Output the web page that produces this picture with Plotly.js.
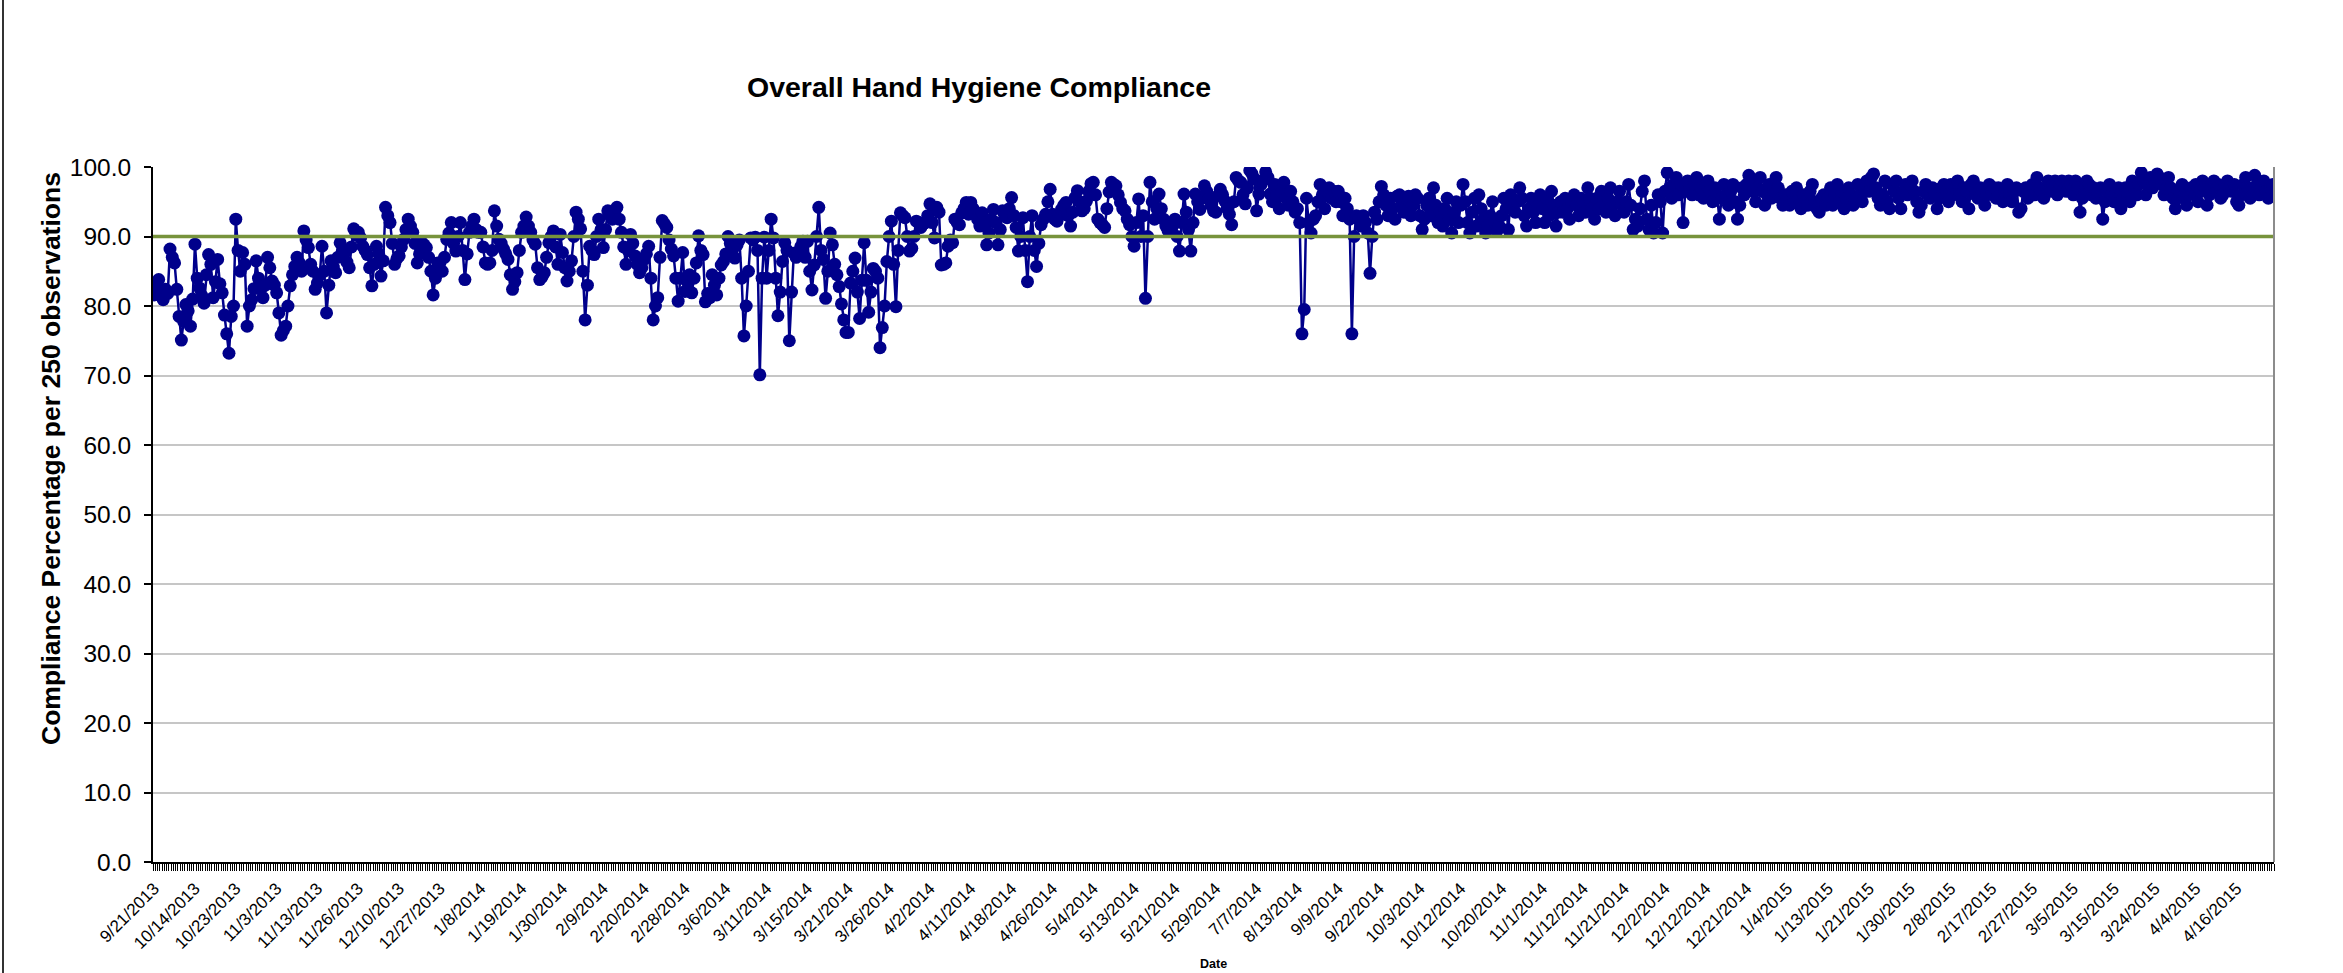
<!DOCTYPE html>
<html>
<head>
<meta charset="utf-8">
<script src="https://cdn.plot.ly/plotly-3.0.1.min.js"></script>
<style>html,body{margin:0;padding:0;background:#fff;}#chart{width:2343px;height:973px;}</style>
</head>
<body>
<div id="chart"></div>
<script>
// Compliance percentage per 250 observations, one value per observation, in date order
const compliance = [
 81.6, 82.8, 83.8, 81.5, 80.9, 82.4, 81.8, 88.2, 87.0, 86.2, 82.4, 78.5, 75.1, 77.8, 80.2, 79.3, 77.1, 81.0,
 88.9, 84.0, 82.6, 81.5, 80.4, 84.5, 87.4, 86.0, 81.2, 83.5, 86.7, 83.2, 81.9, 78.7, 76.0, 73.2, 78.5, 80.0,
 92.5, 88.0, 85.0, 87.7, 86.0, 77.1, 80.0, 80.9, 82.5, 86.5, 84.0, 82.4, 81.2, 83.0, 87.0, 85.5, 83.6, 83.0,
 81.9, 79.0, 75.8, 76.5, 77.1, 80.0, 82.9, 84.5, 85.7, 87.0, 86.2, 85.0, 90.8, 89.5, 88.4, 86.0, 85.0, 82.4,
 83.3, 84.5, 88.6, 85.0, 79.0, 83.0, 86.5, 85.6, 84.8, 87.0, 89.1, 88.0, 87.7, 86.3, 85.5, 88.5, 91.1, 90.2,
 90.6, 89.8, 88.6, 88.0, 87.4, 85.5, 82.9, 86.0, 88.6, 87.5, 84.3, 86.5, 94.2, 93.0, 92.0, 89.0, 86.0, 86.8,
 87.2, 88.5, 89.6, 91.0, 92.5, 91.5, 90.6, 89.0, 86.2, 87.5, 89.1, 88.8, 88.4, 87.0, 85.0, 81.6, 84.0, 86.2,
 86.2, 85.0, 87.0, 89.6, 90.5, 92.0, 89.0, 87.9, 90.0, 92.0, 88.0, 83.8, 87.5, 90.6, 91.5, 92.5, 91.0, 90.6,
 90.6, 88.5, 86.2, 86.0, 86.2, 88.0, 93.7, 91.5, 89.6, 89.0, 88.2, 87.5, 86.7, 84.5, 82.4, 83.5, 84.8, 88.0,
 90.6, 91.5, 92.8, 91.5, 90.6, 89.5, 88.9, 85.5, 83.8, 84.2, 84.8, 87.0, 89.1, 90.0, 90.8, 88.5, 86.0, 90.3,
 87.7, 85.5, 83.6, 85.0, 86.5, 90.0, 93.5, 92.5, 91.1, 85.0, 78.0, 83.0, 88.6, 88.0, 87.4, 90.0, 92.5, 91.0,
 88.4, 91.0, 93.7, 93.0, 92.5, 93.5, 94.2, 92.5, 90.6, 88.5, 86.0, 88.0, 90.3, 89.0, 87.2, 86.0, 84.8, 85.5,
 86.7, 87.5, 88.6, 84.0, 78.0, 80.0, 81.2, 87.0, 92.3, 91.8, 91.3, 89.5, 88.2, 87.2, 84.0, 80.7, 84.0, 87.7,
 82.1, 83.5, 84.5, 81.9, 84.0, 86.2, 90.1, 88.0, 87.4, 80.6, 81.8, 81.2, 84.5, 83.0, 81.6, 84.0, 85.9, 86.4,
 87.5, 90.0, 89.0, 88.1, 86.9, 88.8, 89.5, 84.0, 75.7, 80.0, 85.0, 89.8, 89.5, 89.9, 88.0, 70.1, 84.0, 89.9,
 84.0, 88.0, 92.5, 89.8, 84.0, 78.6, 82.0, 86.4, 89.1, 88.0, 75.0, 82.0, 87.6, 87.0, 87.4, 88.5, 89.3, 87.0,
 89.3, 85.0, 82.3, 85.9, 90.0, 94.2, 88.0, 86.7, 81.1, 85.0, 90.5, 88.8, 86.0, 84.5, 82.8, 80.3, 78.0, 76.2,
 76.2, 83.3, 85.0, 86.9, 82.0, 78.2, 83.7, 89.1, 83.7, 79.1, 82.0, 85.4, 85.0, 84.0, 74.0, 76.9, 80.0, 86.4,
 90.0, 92.2, 86.0, 79.9, 88.0, 93.4, 93.0, 92.7, 90.0, 87.9, 88.3, 90.0, 92.2, 92.0, 91.3, 91.8, 92.0, 93.0,
 94.7, 92.0, 89.8, 94.2, 93.5, 85.9, 86.0, 86.2, 88.6, 89.5, 89.1, 92.5, 92.0, 91.7, 93.4, 94.0, 94.9, 93.2,
 94.9, 94.0, 93.2, 92.5, 91.5, 93.4, 92.0, 88.8, 90.5, 92.5, 93.9, 92.0, 88.8, 91.0, 93.7, 93.0, 92.7, 94.0,
 95.6, 93.0, 91.3, 87.9, 90.0, 92.7, 88.0, 83.5, 90.0, 93.0, 88.0, 85.7, 89.0, 91.7, 92.5, 93.2, 95.0, 96.8,
 93.2, 92.5, 92.2, 93.0, 93.9, 94.5, 94.9, 93.0, 91.5, 93.5, 95.6, 96.6, 95.0, 93.7, 94.0, 95.1, 96.5, 97.6,
 97.8, 96.0, 92.5, 92.0, 91.7, 91.3, 94.0, 96.4, 97.8, 97.5, 97.3, 96.0, 94.9, 94.0, 93.7, 92.5, 91.7, 90.0,
 88.6, 92.0, 95.4, 90.0, 93.0, 81.1, 90.0, 97.8, 95.0, 92.5, 94.0, 96.1, 94.0, 92.5, 91.5, 90.8, 90.8, 91.5,
 92.5, 90.0, 87.9, 92.0, 96.1, 93.5, 91.0, 87.9, 92.0, 96.1, 95.0, 93.9, 95.5, 97.3, 96.5, 95.4, 94.5, 93.7,
 93.5, 95.9, 96.8, 96.0, 95.1, 94.0, 93.2, 91.7, 95.0, 98.5, 98.0, 97.8, 96.0, 94.7, 97.0, 99.5, 99.0, 98.3,
 93.7, 96.1, 97.5, 98.1, 99.3, 98.5, 96.1, 95.0, 97.5, 96.0, 94.0, 96.5, 97.8, 95.5, 94.5, 96.5, 95.0, 93.5,
 94.0, 92.0, 76.0, 79.5, 95.5, 92.0, 90.5, 92.5, 93.0, 95.0, 97.5, 96.0, 94.0, 96.5, 97.0, 95.5, 96.5, 95.0,
 96.5, 95.0, 93.0, 95.5, 94.0, 92.5, 76.0, 90.0, 93.0, 92.5, 91.5, 93.0, 92.0, 90.5, 84.7, 90.0, 93.5, 92.5,
 95.0, 97.2, 96.0, 94.5, 93.0, 95.5, 94.0, 92.5, 95.8, 96.0, 94.5, 93.5, 95.5, 95.8, 93.0, 94.5, 96.0, 95.5,
 93.0, 91.0, 92.5, 94.5, 95.5, 93.0, 97.0, 94.5, 92.0, 93.5, 91.5, 94.0, 95.5, 92.5, 90.5, 93.5, 95.0, 92.0,
 94.5, 97.5, 95.0, 92.0, 90.5, 93.5, 95.5, 91.5, 96.0, 94.0, 92.5, 90.5, 91.5, 93.0, 95.0, 92.0, 90.8, 91.5,
 93.0, 95.5, 94.0, 91.0, 96.0, 94.5, 93.5, 95.0, 97.0, 95.5, 93.0, 91.5, 94.0, 95.5, 93.5, 92.0, 94.5, 96.0,
 94.0, 92.0, 95.5, 93.0, 96.5, 94.5, 91.5, 93.5, 95.0, 93.5, 95.5, 94.0, 92.5, 95.0, 96.0, 94.5, 93.0, 95.5,
 95.0, 93.5, 97.0, 95.5, 94.0, 92.5, 95.5, 94.0, 96.5, 95.0, 93.5, 95.5, 97.0, 94.5, 93.0, 95.0, 96.5, 94.5,
 93.5, 95.0, 97.5, 94.5, 91.0, 92.5, 91.5, 94.0, 96.5, 98.0, 92.5, 91.0, 94.5, 90.5, 92.0, 96.0, 95.0, 90.5,
 96.5, 99.2, 97.0, 95.5, 97.5, 98.5, 96.0, 97.5, 92.0, 96.5, 98.0, 97.0, 96.0, 97.5, 98.5, 96.0, 97.0, 95.5,
 97.5, 98.0, 96.5, 95.0, 97.0, 96.0, 92.5, 95.5, 97.5, 96.0, 94.5, 96.5, 97.5, 95.0, 92.5, 94.5, 97.0, 96.0,
 97.5, 98.8, 98.0, 96.5, 95.0, 97.0, 98.5, 96.5, 94.5, 96.0, 97.5, 95.5, 96.5, 98.5, 97.0, 95.5, 94.5, 96.0,
 95.0, 94.5, 96.5, 95.0, 97.0, 95.5, 94.0, 96.0, 95.0, 94.5, 96.5, 97.5, 95.0, 94.0, 93.5, 95.5, 96.0, 94.5,
 95.5, 97.0, 94.5, 96.0, 97.5, 95.0, 96.5, 94.0, 95.5, 97.0, 96.0, 94.5, 95.5, 97.5, 96.0, 95.0, 96.5, 98.0,
 96.5, 98.5, 99.0, 97.0, 95.5, 94.5, 96.0, 98.0, 95.0, 94.0, 97.5, 96.5, 98.0, 95.5, 94.0, 96.5, 97.5, 96.0,
 97.5, 98.0, 96.5, 95.0, 93.5, 94.5, 96.5, 97.5, 96.0, 95.5, 97.0, 96.0, 94.0, 95.5, 97.0, 97.5, 96.5, 95.0,
 97.5, 96.0, 97.0, 98.0, 96.5, 95.0, 97.0, 96.5, 94.0, 97.5, 98.0, 96.0, 95.5, 97.0, 96.5, 94.5, 96.0, 97.5,
 96.5, 97.0, 95.5, 97.0, 96.0, 95.0, 96.5, 97.5, 96.0, 95.0, 96.5, 97.0, 93.5, 94.0, 96.5, 97.0, 95.5, 96.5,
 97.5, 96.0, 98.5, 97.0, 96.5, 95.5, 97.0, 98.0, 96.5, 97.5, 98.0, 96.0, 97.5, 98.0, 97.0, 96.5, 98.0, 97.5,
 96.0, 98.0, 97.0, 93.5, 95.5, 96.5, 98.0, 97.5, 96.0, 97.0, 95.5, 96.5, 97.0, 92.5, 95.0, 96.5, 97.5, 96.0,
 95.0, 96.5, 97.0, 94.0, 95.5, 97.0, 96.0, 95.0, 98.0, 97.0, 96.0, 97.5, 99.2, 98.0, 96.0, 97.5, 98.5, 97.0,
 98.0, 99.0, 98.5, 97.5, 96.0, 97.0, 98.5, 97.0, 95.5, 94.0, 95.5, 96.5, 97.5, 96.0, 94.5, 96.0, 97.0, 96.5,
 97.5, 95.0, 96.5, 98.0, 97.0, 94.5, 96.0, 97.5, 98.0, 96.5, 97.5, 95.5, 96.0, 97.5, 98.0, 97.0, 96.5, 97.5,
 95.0, 94.5, 96.0, 97.5, 98.5, 97.0, 95.5, 96.0, 98.8, 97.5, 96.0, 97.0, 98.0, 96.5, 95.5, 97.0, 97.5
];

// Date labels shown on the category axis (one every LABEL_STEP observations)
const tickLabels = [
 "9/21/2013","10/14/2013","10/23/2013","11/3/2013","11/13/2013","11/26/2013","12/10/2013","12/27/2013",
 "1/8/2014","1/19/2014","1/30/2014","2/9/2014","2/20/2014","2/28/2014","3/6/2014","3/11/2014","3/15/2014",
 "3/21/2014","3/26/2014","4/2/2014","4/11/2014","4/18/2014","4/26/2014","5/4/2014","5/13/2014","5/21/2014",
 "5/29/2014","7/7/2014","8/13/2014","9/9/2014","9/22/2014","10/3/2014","10/12/2014","10/20/2014","11/1/2014",
 "11/12/2014","11/21/2014","12/2/2014","12/12/2014","12/21/2014","1/4/2015","1/13/2015","1/21/2015","1/30/2015",
 "2/8/2015","2/17/2015","2/27/2015","3/5/2015","3/15/2015","3/24/2015","4/4/2015","4/16/2015"
];
const LABEL_STEP = 18;
const TARGET = 90;
const yTicks = [0,10,20,30,40,50,60,70,80,90,100];

const xIdx = compliance.map((_, i) => i);
const tickVals = tickLabels.map((_, k) => k * LABEL_STEP);

const FONT = "Liberation Sans, Arial, Helvetica, sans-serif";

const trace = {
  x: xIdx, y: compliance, type: "scatter", mode: "lines+markers",
  line: {color: "#00008B", width: 2.5},
  marker: {color: "#00008B", size: 13},
  hoverinfo: "y"
};

const layout = {
  width: 2343, height: 973,
  margin: {l: 153, r: 69, t: 167, b: 111, pad: 0},
  paper_bgcolor: "#ffffff", plot_bgcolor: "#ffffff",
  showlegend: false,
  title: {text: "Overall Hand Hygiene Compliance", x: 979/2343, xanchor: "center", y: 1 - 87/973, yanchor: "middle",
          font: {family: FONT, size: 28.5, color: "#000", weight: 700}},
  xaxis: {
    range: [-0.5, compliance.length - 0.5],
    tickmode: "array", tickvals: tickVals, ticktext: tickLabels,
    tickangle: -45, ticks: "", showgrid: false, zeroline: false,
    showline: true, linecolor: "#000", linewidth: 2,
    ticklabelstandoff: 8,
    tickfont: {family: FONT, size: 17, color: "#000"},
    minor: {tickmode: "linear", tick0: -0.5, dtick: 1, ticks: "outside", ticklen: 7, tickwidth: 1, tickcolor: "#000", showgrid: false}
  },
  yaxis: {
    range: [0, 100], tickmode: "array", tickvals: yTicks, tickformat: ".1f",
    ticks: "outside", ticklen: 7, tickwidth: 2, tickcolor: "#000",
    showline: true, linecolor: "#000", linewidth: 2,
    showgrid: true, gridcolor: "#c6c6c6", gridwidth: 2, zeroline: false,
    ticklabelstandoff: 8,
    tickfont: {family: FONT, size: 24.5, color: "#000"}
  },
  annotations: [
    {text: "Compliance Percentage per 250 observations", textangle: -90, xref: "paper", yref: "paper",
     x: (51 - 153) / 2121, y: (862 - 459) / 695, xanchor: "center", yanchor: "middle", showarrow: false,
     font: {family: FONT, size: 26.5, color: "#000", weight: 700}},
    {text: "Date", xref: "paper", yref: "paper", x: 0.5, y: (862 - 964) / 695, xanchor: "center", yanchor: "middle",
     showarrow: false, font: {family: FONT, size: 12.5, color: "#000", weight: 700}}
  ],
  shapes: [
    {type: "line", xref: "paper", yref: "y", x0: 0, x1: 1, y0: TARGET, y1: TARGET, line: {color: "#77933C", width: 3.5}},
    {type: "line", xref: "paper", yref: "paper", x0: 1, x1: 1, y0: 0, y1: 1, line: {color: "#8c8c8c", width: 2}},
    {type: "line", xref: "paper", yref: "paper", x0: (3 - 153) / 2121, x1: (3 - 153) / 2121, y0: -0.16, y1: 1.25, line: {color: "#333", width: 2}}
  ]
};

Plotly.newPlot("chart", [trace], layout, {displayModeBar: false, staticPlot: true});
</script>
</body>
</html>
